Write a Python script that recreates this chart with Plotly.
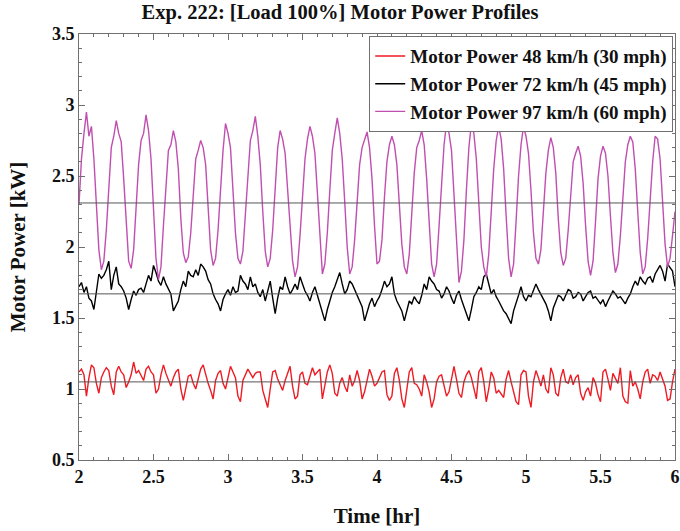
import numpy as np
import plotly.graph_objects as go

# Time grid: one sample per minute from 2 h to 6 h
time_hr = 2 + np.arange(241) / 60.0

power_48 = [
    1.12, 1.14, 1.10, 0.95, 1.08, 1.17, 1.15, 1.04, 0.97, 1.08,
    1.12, 1.15, 1.13, 1.02, 0.96, 1.12, 1.16, 1.12, 1.10, 1.01,
    1.05, 1.10, 1.19, 1.11, 1.13, 1.09, 1.06, 1.14, 1.16, 1.12,
    1.10, 0.97, 1.00, 1.10, 1.17, 1.11, 1.06, 1.02, 1.08, 1.12,
    1.14, 1.00, 0.92, 1.02, 1.09, 1.10, 1.04, 1.00, 1.08, 1.14,
    1.17, 1.10, 1.04, 0.99, 0.93, 1.06, 1.11, 1.13, 1.04, 1.00,
    1.07, 1.16, 1.12, 1.08, 0.95, 0.91, 1.06, 1.10, 1.14, 1.11,
    1.08, 1.11, 1.12, 1.12, 0.99, 0.93, 0.87, 1.00, 1.12, 1.13,
    1.07, 1.03, 0.99, 1.06, 1.11, 1.16, 1.02, 0.93, 0.95, 1.10,
    1.12, 1.04, 1.03, 1.10, 1.15, 1.10, 1.12, 1.14, 0.93, 1.02,
    1.12, 1.17, 1.11, 0.97, 0.95, 1.04, 1.08, 1.02, 0.98, 1.10,
    1.02, 1.06, 1.13, 1.06, 0.93, 0.98, 1.07, 1.14, 1.09, 1.02,
    1.04, 1.08, 1.12, 1.13, 0.96, 0.92, 0.95, 1.11, 1.15, 1.06,
    0.93, 0.87, 1.00, 1.12, 1.15, 1.04, 1.03, 1.00, 0.95, 1.10,
    1.05, 0.98, 0.87, 0.93, 1.05, 1.09, 1.10, 1.02, 0.95, 0.98,
    1.06, 1.16, 1.07, 0.97, 0.94, 1.05, 1.10, 1.13, 1.08, 1.00,
    0.93, 1.12, 1.15, 1.05, 0.91, 1.00, 1.12, 1.08, 0.97, 0.99,
    0.96, 0.94, 1.07, 1.13, 1.05, 0.97, 0.91, 0.89, 1.10, 1.13,
    1.12, 0.95, 0.87, 1.05, 1.13, 1.08, 1.02, 1.10, 1.00, 0.97,
    1.15, 1.10, 0.97, 0.95, 1.08, 1.14, 1.05, 1.04, 1.10, 1.03,
    1.08, 1.10, 0.97, 0.92, 0.98, 1.01, 0.95, 1.08, 1.04, 0.96,
    0.91, 1.12, 1.14, 1.07, 0.99, 1.11, 1.08, 1.04, 1.15, 0.95,
    0.91, 0.90, 1.13, 1.02, 1.05, 1.00, 0.93, 1.05, 1.12, 1.14,
    1.04, 1.10, 1.09, 1.06, 1.12, 1.07, 1.02, 0.92, 0.93, 1.05,
    1.14,
]

power_72 = [
    1.72, 1.75, 1.68, 1.72, 1.64, 1.62, 1.56, 1.68, 1.81, 1.78,
    1.80, 1.84, 1.90, 1.70, 1.80, 1.86, 1.74, 1.72, 1.69, 1.64,
    1.56, 1.63, 1.69, 1.66, 1.70, 1.71, 1.68, 1.74, 1.80, 1.76,
    1.87, 1.82, 1.76, 1.73, 1.79, 1.74, 1.70, 1.67, 1.55, 1.59,
    1.62, 1.70, 1.76, 1.72, 1.83, 1.80, 1.79, 1.84, 1.80, 1.88,
    1.86, 1.83, 1.77, 1.74, 1.67, 1.63, 1.60, 1.55, 1.63, 1.67,
    1.70, 1.66, 1.72, 1.68, 1.69, 1.80, 1.76, 1.74, 1.70, 1.79,
    1.72, 1.74, 1.68, 1.65, 1.70, 1.62, 1.70, 1.76, 1.64, 1.53,
    1.64, 1.72, 1.70, 1.79, 1.72, 1.67, 1.70, 1.74, 1.70, 1.79,
    1.74, 1.69, 1.66, 1.62, 1.68, 1.72, 1.66, 1.60, 1.53, 1.48,
    1.56, 1.62, 1.68, 1.72, 1.77, 1.82, 1.74, 1.67, 1.70, 1.76,
    1.74, 1.70, 1.65, 1.62, 1.58, 1.48, 1.55, 1.60, 1.64, 1.58,
    1.62, 1.65, 1.70, 1.76, 1.72, 1.74, 1.79, 1.67, 1.62, 1.58,
    1.55, 1.48, 1.56, 1.62, 1.60, 1.65, 1.62, 1.60, 1.66, 1.74,
    1.70, 1.79, 1.76, 1.74, 1.70, 1.69, 1.64, 1.67, 1.72, 1.69,
    1.64, 1.60, 1.66, 1.69, 1.63, 1.58, 1.52, 1.48, 1.56, 1.65,
    1.68, 1.72, 1.70, 1.79, 1.81, 1.74, 1.67, 1.70, 1.65, 1.62,
    1.58, 1.55, 1.53, 1.49, 1.46, 1.55, 1.60, 1.66, 1.72, 1.65,
    1.62, 1.66, 1.65, 1.69, 1.74, 1.70, 1.67, 1.63, 1.60, 1.55,
    1.48, 1.57, 1.62, 1.66, 1.65, 1.62, 1.66, 1.70, 1.69, 1.64,
    1.65, 1.68, 1.67, 1.62, 1.65, 1.68, 1.69, 1.64, 1.65, 1.62,
    1.60, 1.63, 1.58, 1.62, 1.65, 1.69, 1.67, 1.64, 1.65, 1.62,
    1.60, 1.64, 1.67, 1.72, 1.76, 1.73, 1.79, 1.76, 1.74, 1.78,
    1.79, 1.75, 1.81, 1.84, 1.87, 1.83, 1.76, 1.88, 1.85, 1.83,
    1.72,
]

power_97 = [
    2.30, 2.62, 2.80, 2.95, 2.78, 2.85, 2.62, 2.30, 1.98, 1.84,
    1.90, 2.12, 2.45, 2.70, 2.78, 2.89, 2.80, 2.74, 2.48, 2.15,
    1.90, 1.85, 1.98, 2.28, 2.58, 2.75, 2.80, 2.93, 2.82, 2.62,
    2.25, 1.92, 1.77, 1.86, 2.15, 2.45, 2.68, 2.72, 2.82, 2.74,
    2.55, 2.20, 1.96, 1.89, 1.93, 2.10, 2.40, 2.62, 2.68, 2.75,
    2.70, 2.58, 2.28, 1.98, 1.87, 1.92, 2.12, 2.42, 2.68, 2.87,
    2.80, 2.70, 2.42, 2.10, 1.92, 1.88, 1.97, 2.25, 2.55, 2.75,
    2.82, 2.92, 2.78, 2.58, 2.25, 1.97, 1.86, 1.92, 2.12, 2.45,
    2.70, 2.82, 2.76, 2.66, 2.42, 2.12, 1.90, 1.79, 1.86, 2.08,
    2.38, 2.62, 2.76, 2.85, 2.78, 2.66, 2.38, 2.05, 1.81, 1.88,
    2.10, 2.40, 2.68, 2.80, 2.91, 2.80, 2.62, 2.32, 2.00, 1.81,
    1.86, 2.05, 2.35, 2.58, 2.70, 2.76, 2.81, 2.70, 2.48, 2.15,
    1.88, 1.90, 2.05, 2.35, 2.60, 2.72, 2.78, 2.72, 2.58, 2.30,
    2.02, 1.86, 1.81, 1.95, 2.22, 2.52, 2.70, 2.75, 2.82, 2.72,
    2.48, 2.15, 1.88, 1.79, 1.88, 2.15, 2.45, 2.72, 2.87, 2.80,
    2.68, 2.38, 2.02, 1.75, 1.83, 2.05, 2.40, 2.70, 2.87, 2.80,
    2.62, 2.30, 2.00, 1.86, 1.79, 1.95, 2.25, 2.55, 2.75, 2.85,
    2.76, 2.55, 2.22, 1.92, 1.79, 1.88, 2.18, 2.50, 2.72, 2.85,
    2.78, 2.66, 2.40, 2.10, 1.92, 1.88, 1.98, 2.25, 2.52, 2.68,
    2.77, 2.70, 2.52, 2.20, 1.96, 1.87, 1.92, 2.12, 2.40, 2.60,
    2.66, 2.71, 2.64, 2.45, 2.15, 1.90, 1.80, 1.90, 2.18, 2.48,
    2.64, 2.71, 2.66, 2.50, 2.22, 1.96, 1.82, 1.88, 2.08, 2.38,
    2.60, 2.72, 2.78, 2.74, 2.55, 2.25, 1.96, 1.81, 1.86, 2.06,
    2.35, 2.60, 2.78, 2.76, 2.62, 2.32, 2.02, 1.86, 1.92, 2.08,
    2.25,
]

mean_levels = [1.05, 1.67, 2.31]

series_names = [
    "Motor Power 48 km/h (30 mph)",
    "Motor Power 72 km/h (45 mph)",
    "Motor Power 97 km/h (60 mph)",
]
series_colors = ["#ED1C24", "#000000", "#C04FB0"]

x_ticks = [2, 2.5, 3, 3.5, 4, 4.5, 5, 5.5, 6]
y_ticks = [0.5, 1, 1.5, 2, 2.5, 3, 3.5]

SERIF = "Liberation Serif, Times New Roman, serif"
INK = "#111111"

fig = go.Figure()
for name, color, vals in zip(series_names, series_colors, [power_48, power_72, power_97]):
    fig.add_trace(go.Scatter(
        x=time_hr, y=vals, mode="lines", name=name,
        line=dict(color=color, width=1.4),
    ))

for lvl in mean_levels:
    fig.add_trace(go.Scatter(
        x=[time_hr[0], time_hr[-1]], y=[lvl, lvl], mode="lines",
        line=dict(color="#555555", width=1), showlegend=False, hoverinfo="skip",
    ))

axis_common = dict(
    showline=True, linecolor="#707070", linewidth=1, mirror="ticks",
    ticks="inside", ticklen=6, tickcolor="#707070", tickwidth=1,
    showgrid=False, zeroline=False, automargin=False,
    tickfont=dict(family=SERIF, size=18, color=INK, weight="bold"),
    minor=dict(ticks="inside", ticklen=3, tickcolor="#707070", showgrid=False),
)

fig.update_xaxes(
    range=[2, 6], tickvals=x_ticks, ticktext=[f"{v:g}" for v in x_ticks],
    minor_dtick=0.1, ticklabeloverflow="allow",
    title=dict(text="Time [hr]", font=dict(family=SERIF, size=21, color=INK, weight="bold"), standoff=22),
    **axis_common,
)
fig.update_yaxes(
    range=[0.5, 3.5], tickvals=y_ticks, ticktext=[f"{v:g}" for v in y_ticks],
    minor_dtick=0.1, ticklabeloverflow="allow",
    title=dict(text="Motor Power [kW]", font=dict(family=SERIF, size=21, color=INK, weight="bold"), standoff=20),
    **axis_common,
)

fig.update_layout(
    width=680, height=531,
    margin=dict(l=79, r=5, t=34, b=71),
    paper_bgcolor="white", plot_bgcolor="white",
    title=dict(text="Exp. 222: [Load 100%] Motor Power Profiles",
               font=dict(family=SERIF, size=20.5, color=INK, weight="bold"),
               x=0.5, xanchor="center", y=0.992, yanchor="top"),
    legend=dict(
        x=0.997, xanchor="right", y=0.995, yanchor="top",
        bgcolor="white", bordercolor="#707070", borderwidth=1,
        font=dict(family=SERIF, size=19, color=INK, weight="bold"),
        itemwidth=30, tracegroupgap=0,
    ),
    showlegend=True,
)

# Remove the default page margin so the figure sits at the window's top-left corner
fig.write_html(
    "out.html",
    config={"displayModeBar": False},
    post_script="document.body.style.margin='0';document.body.style.overflow='hidden';",
)
